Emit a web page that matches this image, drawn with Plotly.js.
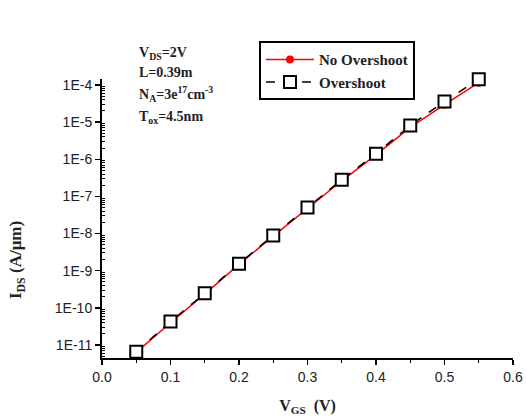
<!DOCTYPE html>
<html>
<head>
<meta charset="utf-8">
<script src="https://cdn.plot.ly/plotly-3.0.1.min.js"></script>
<style>html,body{margin:0;padding:0;background:#fff;}#chart{width:526px;height:419px;}</style>
</head>
<body>
<div id="chart"></div>
<script>
const vgs = [0.05, 0.10, 0.15, 0.20, 0.25, 0.30, 0.35, 0.40, 0.45, 0.50, 0.55];
const logNoOvershoot = [-11.20, -10.40, -9.63, -8.83, -8.07, -7.32, -6.58, -5.88, -5.14, -4.53, -3.94];
const logOvershoot   = [-11.18, -10.37, -9.61, -8.81, -8.05, -7.30, -6.55, -5.85, -5.09, -4.445, -3.85];
const yTickVals = [1e-11, 1e-10, 1e-9, 1e-8, 1e-7, 1e-6, 1e-5, 1e-4];
const yTickText = ["1E-11", "1E-10", "1E-9", "1E-8", "1E-7", "1E-6", "1E-5", "1E-4"];
const xTickVals = [0.0, 0.1, 0.2, 0.3, 0.4, 0.5, 0.6];
const xTickText = ["0.0", "0.1", "0.2", "0.3", "0.4", "0.5", "0.6"];

const noOvershoot = logNoOvershoot.map(v => Math.pow(10, v));
const overshoot = logOvershoot.map(v => Math.pow(10, v));

const minorVals = [];
for (let e = -12; e <= -4; e++) for (let m = 2; m <= 9; m++) minorVals.push(m * Math.pow(10, e));

const serif = "Liberation Serif, Times New Roman, serif";
const sans = "Liberation Sans, Arial, sans-serif";

const traces = [
  {x: vgs, y: noOvershoot, name: "No Overshoot", mode: "lines+markers",
   line: {color: "#ff0000", width: 1.5},
   marker: {symbol: "circle", size: 8, color: "#ff0000"}, cliponaxis: false},
  {x: vgs, y: overshoot, name: "Overshoot", mode: "lines+markers",
   line: {color: "#000000", width: 1.5, dash: "dash"},
   marker: {symbol: "square", size: 12, color: "#ffffff", line: {width: 2, color: "#000000"}}, cliponaxis: false}
];

const layout = {
  width: 526, height: 419,
  margin: {l: 102, r: 13, t: 79, b: 61},
  paper_bgcolor: "#fff", plot_bgcolor: "#fff",
  showlegend: true,
  legend: {x: 0.382, y: 1.135, xanchor: "left", yanchor: "top",
    bordercolor: "#000", borderwidth: 2, bgcolor: "#fff",
    font: {family: serif, size: 15, color: "#222", weight: "bold"},
    tracegroupgap: 0, itemwidth: 48},
  xaxis: {range: [0, 0.6], tickvals: xTickVals, ticktext: xTickText,
    ticks: "outside", ticklen: 5, tickwidth: 1.5, tickcolor: "#000",
    minor: {ticks: "outside", ticklen: 3, tickwidth: 1, dtick: 0.05, tickcolor: "#000", showgrid: false},
    showline: true, linecolor: "#000", linewidth: 2, showgrid: false, zeroline: false,
    tickfont: {family: sans, size: 14, color: "#222"},
    title: {text: "<b>V<sub>GS</sub>  (V)</b>", font: {family: serif, size: 16, color: "#222"}, standoff: 16}},
  yaxis: {type: "log", range: [-11.35, -3.84],
    tickvals: yTickVals, ticktext: yTickText,
    ticks: "outside", ticklen: 5, tickwidth: 1.5, tickcolor: "#000",
    minor: {ticks: "inside", ticklen: 3, tickwidth: 1, tickvals: minorVals, tickcolor: "#000", showgrid: false},
    showline: true, linecolor: "#000", linewidth: 2, showgrid: false, zeroline: false,
    tickfont: {family: sans, size: 14, color: "#222"}},
  annotations: [
    {xref: "paper", yref: "paper", x: -0.205, y: 0.35, xanchor: "center", yanchor: "middle",
     textangle: -90, showarrow: false,
     text: "<b>I<sub>DS</sub> (A/μm)</b>", font: {family: serif, size: 17, color: "#222"}},
    {xref: "paper", yref: "paper", x: 0.085, y: 1.09, xanchor: "left", yanchor: "middle", showarrow: false, align: "left",
     text: "<b>V<sub>DS</sub>=2V</b>", font: {family: serif, size: 14, color: "#222"}},
    {xref: "paper", yref: "paper", x: 0.085, y: 1.025, xanchor: "left", yanchor: "middle", showarrow: false, align: "left",
     text: "<b>L=0.39m</b>", font: {family: serif, size: 14, color: "#222"}},
    {xref: "paper", yref: "paper", x: 0.085, y: 0.945, xanchor: "left", yanchor: "middle", showarrow: false, align: "left",
     text: "<b>N<sub>A</sub>=3e<sup>17</sup>cm<sup>-3</sup></b>", font: {family: serif, size: 14, color: "#222"}},
    {xref: "paper", yref: "paper", x: 0.085, y: 0.862, xanchor: "left", yanchor: "middle", showarrow: false, align: "left",
     text: "<b>T<sub>ox</sub>=4.5nm</b>", font: {family: serif, size: 14, color: "#222"}}
  ]
};

Plotly.newPlot("chart", traces, layout, {displayModeBar: false, staticPlot: true});
</script>
</body>
</html>
